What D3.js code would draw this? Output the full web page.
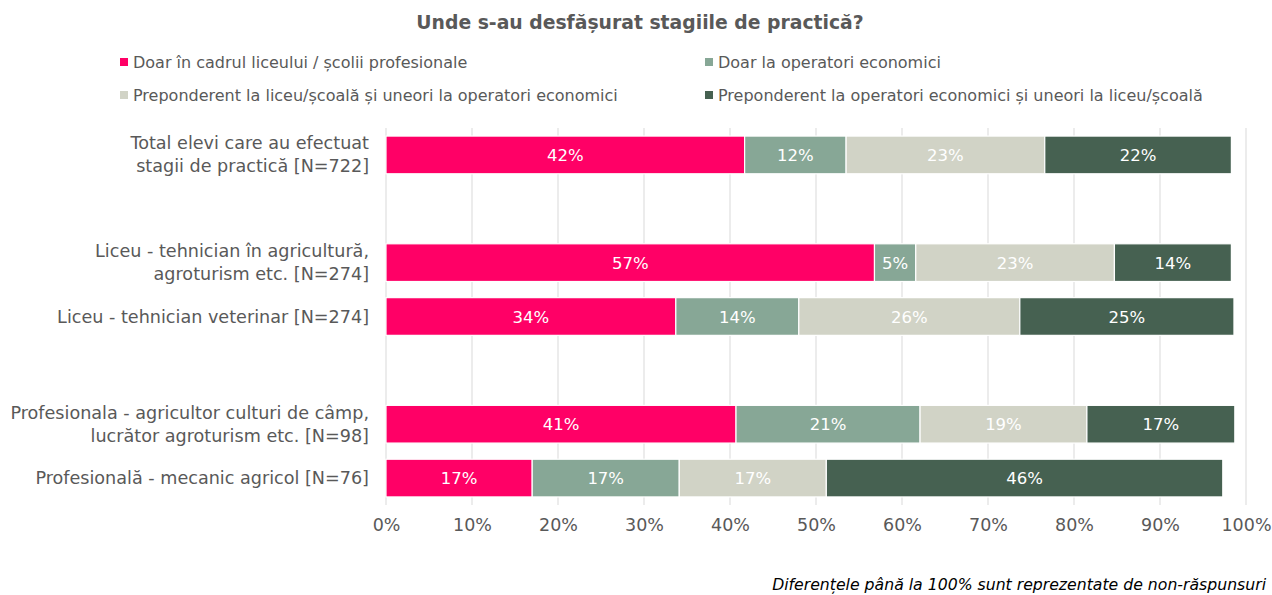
<!DOCTYPE html>
<html>
<head>
<meta charset="utf-8">
<script src="https://cdn.jsdelivr.net/npm/d3@7"></script>
<style>
  body{margin:0;background:#fff;}
  svg{font-family:"DejaVu Sans",Verdana,sans-serif;}
</style>
</head>
<body>
<div id="chart"></div>
<script>
// rows, top to bottom; "sp" rows are empty spacer slots
var rows=["total","sp1","agri","vet","sp2","prof","mec"];
var rowLabels={
  total:["Total elevi care au efectuat","stagii de practică [N=722]"],
  agri:["Liceu - tehnician în agricultură,","agroturism etc. [N=274]"],
  vet:["Liceu - tehnician veterinar [N=274]"],
  prof:["Profesionala - agricultor culturi de câmp,","lucrător agroturism etc. [N=98]"],
  mec:["Profesională - mecanic agricol [N=76]"]
};
var barRows=["total","agri","vet","prof","mec"];

var seriesNames=["Doar în cadrul liceului / școlii profesionale",
                 "Doar la operatori economici",
                 "Preponderent la liceu/școală și uneori la operatori economici",
                 "Preponderent la operatori economici și uneori la liceu/școală"];
var doarLiceu=[41.7,56.8,33.7,40.7,17.0];
var doarOperatori=[11.8,4.8,14.3,21.4,17.1];
var prepLiceu=[23.1,23.1,25.7,19.4,17.1];
var prepOperatori=[21.7,13.6,24.9,17.2,46.1];
var colors=["#ff0066","#87a796","#d1d3c6","#466151"];
var xTicks=[0,10,20,30,40,50,60,70,80,90,100];

var W=1272,H=595;
var margin={top:128,left:386,right:26,bottom:90};
var plotW=W-margin.left-margin.right;
var plotH=H-margin.top-margin.bottom;

var svg=d3.select("#chart").append("svg").attr("width",W).attr("height",H);

svg.append("text")
   .attr("x",640).attr("y",29)
   .attr("text-anchor","middle")
   .style("font-size","18.8px").style("font-weight","bold")
   .attr("fill","#595959")
   .text("Unde s-au desfășurat stagiile de practică?");

// legend
var legPos=[[120,62],[705,62],[120,95],[705,95]];
var leg=svg.append("g").selectAll("g").data(seriesNames).enter().append("g")
   .attr("transform",function(d,i){return "translate("+legPos[i][0]+","+legPos[i][1]+")";});
leg.append("rect").attr("x",0).attr("y",-4).attr("width",8).attr("height",8)
   .attr("fill",function(d,i){return colors[i];});
leg.append("text").attr("x",13).attr("y",6)
   .style("font-size","16px").attr("fill","#595959")
   .text(function(d){return d;});

var g=svg.append("g").attr("transform","translate("+margin.left+","+margin.top+")");

var x=d3.scaleLinear().domain([0,100]).range([0,plotW]);
var y=d3.scaleBand().domain(rows).range([0,plotH]).paddingInner(0.3).paddingOuter(0.15);

// grid
g.append("g").selectAll("line").data(xTicks).enter().append("line")
  .attr("x1",function(d){return x(d);}).attr("x2",function(d){return x(d);})
  .attr("y1",0).attr("y2",plotH)
  .attr("stroke","#d9d9d9").attr("stroke-width",1);

var xAxis=d3.axisBottom(x).tickValues(xTicks).tickSize(0).tickPadding(14)
  .tickFormat(function(d){return d+"%";});
var xa=g.append("g").attr("transform","translate(0,"+plotH+")").call(xAxis);
xa.select(".domain").remove();
xa.selectAll("text").style("font-size","17.5px").attr("fill","#595959")
  .style("font-family","DejaVu Sans, sans-serif");

// stacked data
var table=barRows.map(function(r,i){
  return {row:r,s0:doarLiceu[i],s1:doarOperatori[i],s2:prepLiceu[i],s3:prepOperatori[i]};
});
var stack=d3.stack().keys(["s0","s1","s2","s3"])(table);

var layers=g.append("g").selectAll("g").data(stack).enter().append("g")
  .attr("fill",function(d,i){return colors[i];});
layers.selectAll("rect").data(function(d){return d;}).enter().append("rect")
  .attr("x",function(d){return x(d[0]);})
  .attr("y",function(d){return y(d.data.row);})
  .attr("width",function(d){return x(d[1])-x(d[0]);})
  .attr("height",y.bandwidth())
  .attr("stroke","#fff").attr("stroke-width",1.2);
layers.selectAll("text").data(function(d){return d;}).enter().append("text")
  .attr("x",function(d){return (x(d[0])+x(d[1]))/2;})
  .attr("y",function(d){return y(d.data.row)+y.bandwidth()/2+6;})
  .attr("text-anchor","middle")
  .style("font-size","16.5px").attr("fill","#fff")
  .text(function(d){return Math.round(d[1]-d[0])+"%";});

// category labels
var lab=g.append("g").selectAll("text").data(barRows).enter().append("text")
  .attr("text-anchor","end")
  .style("font-size","17.6px").attr("fill","#595959")
  .attr("transform",function(d){return "translate(-17,"+(y(d)+y.bandwidth()/2)+")";});
lab.each(function(d){
  var lines=rowLabels[d];
  var t=d3.select(this);
  lines.forEach(function(l,k){
    t.append("tspan").attr("x",0)
     .attr("y",(k-(lines.length-1)/2)*23+6)
     .text(l);
  });
});

svg.append("text")
   .attr("x",1266).attr("y",590)
   .attr("text-anchor","end")
   .style("font-size","15.7px").style("font-style","italic")
   .attr("fill","#000")
   .text("Diferențele până la 100% sunt reprezentate de non-răspunsuri");
</script>
</body>
</html>
